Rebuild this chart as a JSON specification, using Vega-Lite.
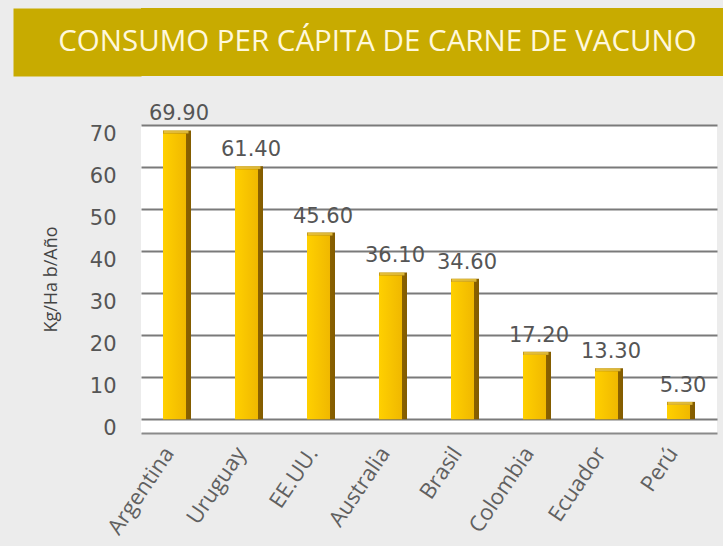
{
  "$schema": "https://vega.github.io/schema/vega-lite/v6.json",
  "background": "#ececec",
  "padding": {"left": 42, "top": 8, "right": 0, "bottom": 8},
  "spacing": 27,
  "config": {"view": {"stroke": null}},
  "vconcat": [
    {
      "width": 585,
      "height": 68,
      "view": {"fill": "#c8ab00", "stroke": null},
      "data": {"values": [{"titulo": "CONSUMO PER CÁPITA DE CARNE DE VACUNO"}]},
      "mark": {"type": "text", "font": "Open Sans", "fontSize": 29.5, "color": "#fff8dc", "dx": -56, "baseline": "middle", "align": "center"},
      "encoding": {
        "text": {"field": "titulo"},
        "y": {
          "datum": 0.5,
          "type": "quantitative",
          "scale": {"domain": [0, 1], "nice": false},
          "axis": {"domainWidth": 128, "domainColor": "#c8ab00", "offset": 64, "labels": false, "ticks": false, "grid": false, "title": null, "domainCap": "butt"}
        }
      }
    },
    {
      "width": 576,
      "height": 308,
      "view": {"fill": "white", "stroke": null},
      "data": {
        "values": [
          {"pais": "Argentina", "valor": 69.9},
          {"pais": "Uruguay", "valor": 61.4},
          {"pais": "EE.UU.", "valor": 45.6},
          {"pais": "Australia", "valor": 36.1},
          {"pais": "Brasil", "valor": 34.6},
          {"pais": "Colombia", "valor": 17.2},
          {"pais": "Ecuador", "valor": 13.3},
          {"pais": "Perú", "valor": 5.3}
        ]
      },
      "encoding": {
        "x": {
          "field": "pais",
          "type": "nominal",
          "sort": null,
          "scale": {"paddingInner": 0, "paddingOuter": 0},
          "axis": {"title": null, "labelAngle": -56, "labelFont": "Open Sans", "labelFontSize": 22, "labelColor": "#606060", "ticks": false, "labelPadding": 16, "labelOffset": -8, "domainColor": "#8a8a8a", "domainWidth": 2, "grid": false}
        },
        "y": {
          "field": "valor",
          "type": "quantitative",
          "scale": {"domain": [-3.3, 70], "nice": false, "zero": false},
          "axis": {"values": [0, 10, 20, 30, 40, 50, 60, 70], "title": "Kg/Ha b/Año", "titleFont": "Open Sans", "titleFontSize": 18, "titleFontWeight": "normal", "titleColor": "#444444", "titleX": -81, "labelFont": "DejaVu Sans", "labelFontSize": 21, "labelColor": "#555555", "labelPadding": 25, "labelOffset": 9, "ticks": false, "domain": false, "gridColor": "#7a7a7a", "gridWidth": 2}
        }
      },
      "layer": [
        {
          "mark": {"type": "bar", "size": 28, "yOffset": 5, "color": {"gradient": "linear", "x1": 0, "x2": 1, "y1": 0, "y2": 0, "stops": [{"offset": 0, "color": "#a87a00"}, {"offset": 1, "color": "#835c00"}]}},
          "encoding": {"y2": {"datum": 0}}
        },
        {
          "mark": {"type": "tick", "size": 25, "thickness": 3, "xOffset": -1, "yOffset": 6.5, "color": "#ffdc50"}
        },
        {
          "mark": {"type": "bar", "size": 23, "xOffset": -2.5, "yOffset": 8, "color": {"gradient": "linear", "x1": 0, "x2": 1, "y1": 0, "y2": 0, "stops": [{"offset": 0, "color": "#ffd000"}, {"offset": 1, "color": "#f0b800"}]}},
          "encoding": {"y2": {"datum": 0}}
        },
        {
          "mark": {"type": "text", "font": "DejaVu Sans", "fontSize": 21, "color": "#555555", "baseline": "bottom", "dy": -9, "dx": 2, "yOffset": 8},
          "encoding": {"text": {"field": "valor", "type": "quantitative", "format": ".2f"}}
        }
      ]
    }
  ]
}
